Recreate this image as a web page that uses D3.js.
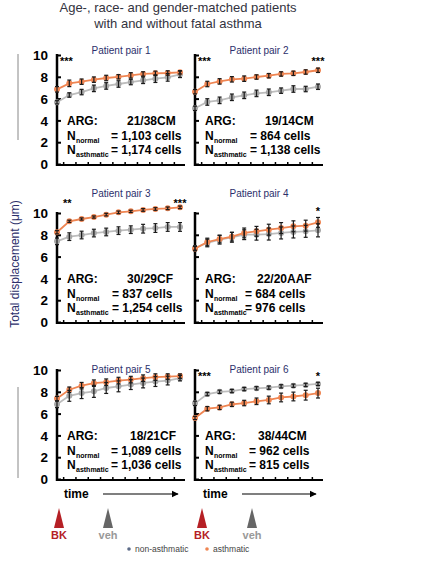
<!DOCTYPE html>
<html><head><meta charset="utf-8">
<script src="https://cdn.jsdelivr.net/npm/d3@7"></script>
<style>body{margin:0;background:#fff}svg{display:block}</style>
</head><body>
<svg id="c" width="435" height="561"></svg>
<script>
// ---------- data ----------
const timePoints = d3.range(11);
const yTicks = [0, 2, 4, 6, 8, 10];
const panelTitles = ["Patient pair 1","Patient pair 2","Patient pair 3","Patient pair 4","Patient pair 5","Patient pair 6"];
const argLabels = ["21/38CM","19/14CM","30/29CF","22/20AAF","18/21CF","38/44CM"];
const nNormal = ["= 1,103 cells","=  864 cells","= 837 cells","= 684 cells","= 1,089 cells","= 962 cells"];
const nAsthmatic = ["= 1,174 cells","= 1,138 cells","= 1,254 cells","= 976 cells","= 1,036 cells","= 815 cells"];
const starsLeft = ["***","***","**","","","***"];
const starsRight = ["","***","***","*","","*"];
const nonAsthmatic = [
  [5.66,6.33,6.60,6.94,7.16,7.34,7.52,7.68,7.83,7.95,8.23],
  [5.11,5.69,5.84,6.12,6.30,6.48,6.58,6.73,6.88,6.88,7.09],
  [7.40,7.83,7.98,8.16,8.26,8.38,8.47,8.56,8.62,8.72,8.72],
  [6.79,7.25,7.55,7.77,8.01,8.01,8.07,8.17,8.26,8.32,8.41],
  [6.85,7.63,7.88,8.04,8.35,8.50,8.66,8.81,8.94,9.03,9.25],
  [6.94,7.79,8.00,8.07,8.25,8.32,8.38,8.50,8.56,8.63,8.72]
];
const nonAsthmaticErr = [
  [0.15,0.2,0.25,0.3,0.3,0.3,0.25,0.3,0.35,0.35,0.3],
  [0.2,0.3,0.3,0.3,0.3,0.3,0.3,0.25,0.3,0.25,0.25],
  [0.3,0.35,0.35,0.35,0.35,0.35,0.35,0.4,0.4,0.4,0.4],
  [0.2,0.35,0.4,0.45,0.45,0.5,0.55,0.55,0.55,0.55,0.6],
  [0.3,0.5,0.5,0.55,0.5,0.5,0.45,0.45,0.45,0.4,0.25],
  [0.2,0.15,0.15,0.15,0.15,0.15,0.15,0.15,0.15,0.15,0.15]
];
const asthmatic = [
  [6.85,7.40,7.55,7.74,7.89,8.00,8.13,8.26,8.32,8.35,8.41],
  [6.63,7.34,7.58,7.77,7.83,7.98,8.10,8.26,8.32,8.44,8.60],
  [8.23,9.24,9.45,9.63,9.85,10.06,10.15,10.28,10.37,10.43,10.52],
  [6.73,7.34,7.61,7.83,8.17,8.32,8.47,8.62,8.78,8.84,9.14],
  [7.38,8.19,8.56,8.79,8.88,9.03,9.12,9.25,9.35,9.40,9.44],
  [5.60,6.45,6.57,6.85,6.97,7.13,7.25,7.48,7.57,7.69,7.88]
];
const asthmaticErr = [
  [0.25,0.3,0.25,0.25,0.25,0.2,0.25,0.2,0.2,0.2,0.15],
  [0.2,0.25,0.25,0.25,0.25,0.2,0.2,0.2,0.2,0.2,0.2],
  [0.15,0.1,0.1,0.1,0.12,0.12,0.1,0.12,0.12,0.12,0.12],
  [0.2,0.35,0.35,0.4,0.45,0.45,0.5,0.5,0.5,0.5,0.45],
  [0.2,0.25,0.3,0.3,0.3,0.3,0.3,0.3,0.3,0.25,0.2],
  [0.15,0.2,0.2,0.2,0.25,0.3,0.35,0.4,0.4,0.45,0.45]
];
const legendLabels = ["non-asthmatic","asthmatic"];

// ---------- layout ----------
const colX = [57, 195];
const rowY0 = [164, 322, 479];
const titleOff = [110, 125, 106];
const plotW = 123, axisW = 128, unitH = 10.9;
const argX = [[127,111],[265,250],[127,112],[257,245],[130,111],[258,249]];
const ORANGE = "#ef8552", GRAY = "#bdbdbd", NAVY = "#2c2f6b";
const svg = d3.select("#c");
const F = "'Liberation Sans', Arial, Helvetica, sans-serif";

svg.append("text").attr("x",178).attr("y",12).attr("text-anchor","middle")
  .attr("font-family",F).attr("font-size",13).attr("fill","#333340")
  .text("Age-, race- and gender-matched patients");
svg.append("text").attr("x",178).attr("y",28).attr("text-anchor","middle")
  .attr("font-family",F).attr("font-size",13).attr("fill","#333340")
  .text("with and without fatal asthma");

svg.append("text").attr("transform","translate(19,264) rotate(-90)")
  .attr("text-anchor","middle").attr("font-family",F).attr("font-size",12)
  .attr("fill",NAVY).text("Total displacement (μm)");

svg.append("line").attr("x1",18).attr("x2",18).attr("y1",54).attr("y2",140).attr("stroke","#888").attr("stroke-width",1);
svg.append("line").attr("x1",18).attr("x2",18).attr("y1",387).attr("y2",478).attr("stroke","#888").attr("stroke-width",1);

panelTitles.forEach((title, i) => {
  const col = i % 2, row = Math.floor(i / 2);
  const x0 = colX[col], y0 = rowY0[row];
  const x = d3.scaleLinear().domain([0, 10]).range([x0, x0 + plotW]);
  const y = d3.scaleLinear().domain([0, 10]).range([y0, y0 - 10 * unitH]);
  const g = svg.append("g");

  // title
  g.append("text").attr("x", x0 + 64).attr("y", y0 - titleOff[row]).attr("text-anchor","middle")
    .attr("font-family",F).attr("font-size",10).attr("fill",NAVY).text(title);

  // y axis
  const ya = d3.axisRight(y).tickValues(yTicks).tickSize(4).tickFormat(col===0 ? d3.format("d") : "");
  const yg = g.append("g").attr("transform",`translate(${x0},0)`).call(ya);
  yg.select(".domain").remove();
  yg.selectAll(".tick line").attr("stroke","#000").attr("stroke-width",2);
  yg.selectAll(".tick text").attr("x",-9).attr("text-anchor","end").attr("font-family",F)
    .attr("font-weight","bold").attr("font-size",13.5).attr("fill","#000").attr("dy","0.35em");
  g.append("line").attr("x1",x0).attr("x2",x0).attr("y1",y(10)-1).attr("y2",y0+2)
    .attr("stroke","#000").attr("stroke-width",2.5);

  // x axis
  const xb = d3.scaleLinear().domain([0, 10]).range([x0, x0 + plotW]);
  const xa = d3.axisTop(xb).tickValues(d3.range(0.5, 10, 1)).tickSize(3).tickFormat("");
  const xg = g.append("g").attr("transform",`translate(0,${y0+1})`).call(xa);
  xg.select(".domain").remove();
  xg.selectAll(".tick line").attr("stroke","#000").attr("stroke-width",1.5);
  g.append("line").attr("x1",x0-1).attr("x2",x0+axisW).attr("y1",y0+1).attr("y2",y0+1)
    .attr("stroke","#000").attr("stroke-width",2);

  // series
  const series = [
    {vals: nonAsthmatic[i], err: nonAsthmaticErr[i], color: GRAY, fill:"#a8a8a8"},
    {vals: asthmatic[i], err: asthmaticErr[i], color: ORANGE, fill: ORANGE}
  ];
  const line = d3.line().x((d, k) => x(timePoints[k])).y(d => y(d));
  series.forEach(s => {
    g.append("path").datum(s.vals).attr("d", line).attr("fill","none")
      .attr("stroke", s.color).attr("stroke-width",1.8);
    g.selectAll(null).data(s.vals).enter().append("circle")
      .attr("cx",(d,k)=>x(timePoints[k])).attr("cy",d=>y(d)).attr("r",3)
      .attr("fill",s.fill);
  });
  series.forEach(s => {
    const eb = g.selectAll(null).data(s.vals).enter().append("g");
    eb.append("line").attr("x1",(d,k)=>x(timePoints[k])).attr("x2",(d,k)=>x(timePoints[k]))
      .attr("y1",(d,k)=>y(d - s.err[k])).attr("y2",(d,k)=>y(d + s.err[k]))
      .attr("stroke","#1a1a1a").attr("stroke-width",1.2);
    [1,-1].forEach(sg => eb.append("line")
      .attr("x1",(d,k)=>x(timePoints[k])-2).attr("x2",(d,k)=>x(timePoints[k])+2)
      .attr("y1",(d,k)=>y(d + sg*s.err[k])).attr("y2",(d,k)=>y(d + sg*s.err[k]))
      .attr("stroke","#1a1a1a").attr("stroke-width",1.2));
  });

  // stars
  const starY = row===1 ? y(10) - 6 : y(10) + 10;
  if (starsLeft[i]) g.append("text").attr("x", x0 + (row===1 ? 6 : 3)).attr("y", starY)
    .attr("font-family",F).attr("font-weight","bold").attr("font-size",11).text(starsLeft[i]);
  if (starsRight[i]) g.append("text").attr("x", x(10)).attr("y", row===1 && starsRight[i]==="*" ? y(10)+2 : starY).attr("text-anchor","middle")
    .attr("font-family",F).attr("font-weight","bold").attr("font-size",11).text(starsRight[i]);

  // annotations
  const tx = (xx, yy, t, sz) => g.append("text").attr("x",xx).attr("y",yy).attr("font-family",F)
    .attr("font-weight","bold").attr("font-size",sz||12).attr("fill","#000").text(t);
  tx(x0 + 10, y0 - 39, "ARG:");
  tx(argX[i][0], y0 - 39, argLabels[i]);
  tx(x0 + 10, y0 - 24, "N");
  tx(x0 + 19, y0 - 21, "normal", 7);
  tx(argX[i][1], y0 - 24, nNormal[i]);
  tx(x0 + 10, y0 - 10, "N");
  tx(x0 + 19, y0 - 7, "asthmatic", 7);
  tx(argX[i][1], y0 - 10, nAsthmatic[i]);
});

// bottom time arrows and stimuli
const defs = svg.append("defs");
defs.append("marker").attr("id","ah").attr("viewBox","0 0 10 10").attr("refX",9).attr("refY",5)
  .attr("markerWidth",6).attr("markerHeight",6).attr("orient","auto")
  .append("path").attr("d","M0,0 L10,5 L0,10 Z").attr("fill","#000");
[{tx:64, ax1:103, ax2:178, bk:59, veh:108},{tx:203, ax1:242, ax2:316, bk:202, veh:252}].forEach(b => {
  svg.append("text").attr("x",b.tx).attr("y",498).attr("font-family",F).attr("font-weight","bold")
    .attr("font-size",12).text("time");
  svg.append("line").attr("x1",b.ax1).attr("x2",b.ax2).attr("y1",494).attr("y2",494)
    .attr("stroke","#000").attr("stroke-width",1.2).attr("marker-end","url(#ah)");
  svg.append("path").attr("d",`M${b.bk},508 L${b.bk+5},528 L${b.bk-5},528 Z`).attr("fill","#b52025");
  svg.append("text").attr("x",b.bk).attr("y",539).attr("text-anchor","middle").attr("font-family",F)
    .attr("font-weight","bold").attr("font-size",11).attr("fill","#b52025").text("BK");
  svg.append("path").attr("d",`M${b.veh},508 L${b.veh+5},528 L${b.veh-5},528 Z`).attr("fill","#666");
  svg.append("text").attr("x",b.veh).attr("y",539).attr("text-anchor","middle").attr("font-family",F)
    .attr("font-weight","bold").attr("font-size",11).attr("fill","#999").text("veh");
});

// legend
const leg = [{x:129, c:"#5d6b88"},{x:207, c:ORANGE}];
leg.forEach((l, k) => {
  svg.append("circle").attr("cx",l.x).attr("cy",549).attr("r",1.8).attr("fill",l.c);
  svg.append("text").attr("x",l.x+6).attr("y",552).attr("font-family",F).attr("font-size",8.5)
    .attr("fill","#444").text(legendLabels[k]);
});
</script>
</body></html>
